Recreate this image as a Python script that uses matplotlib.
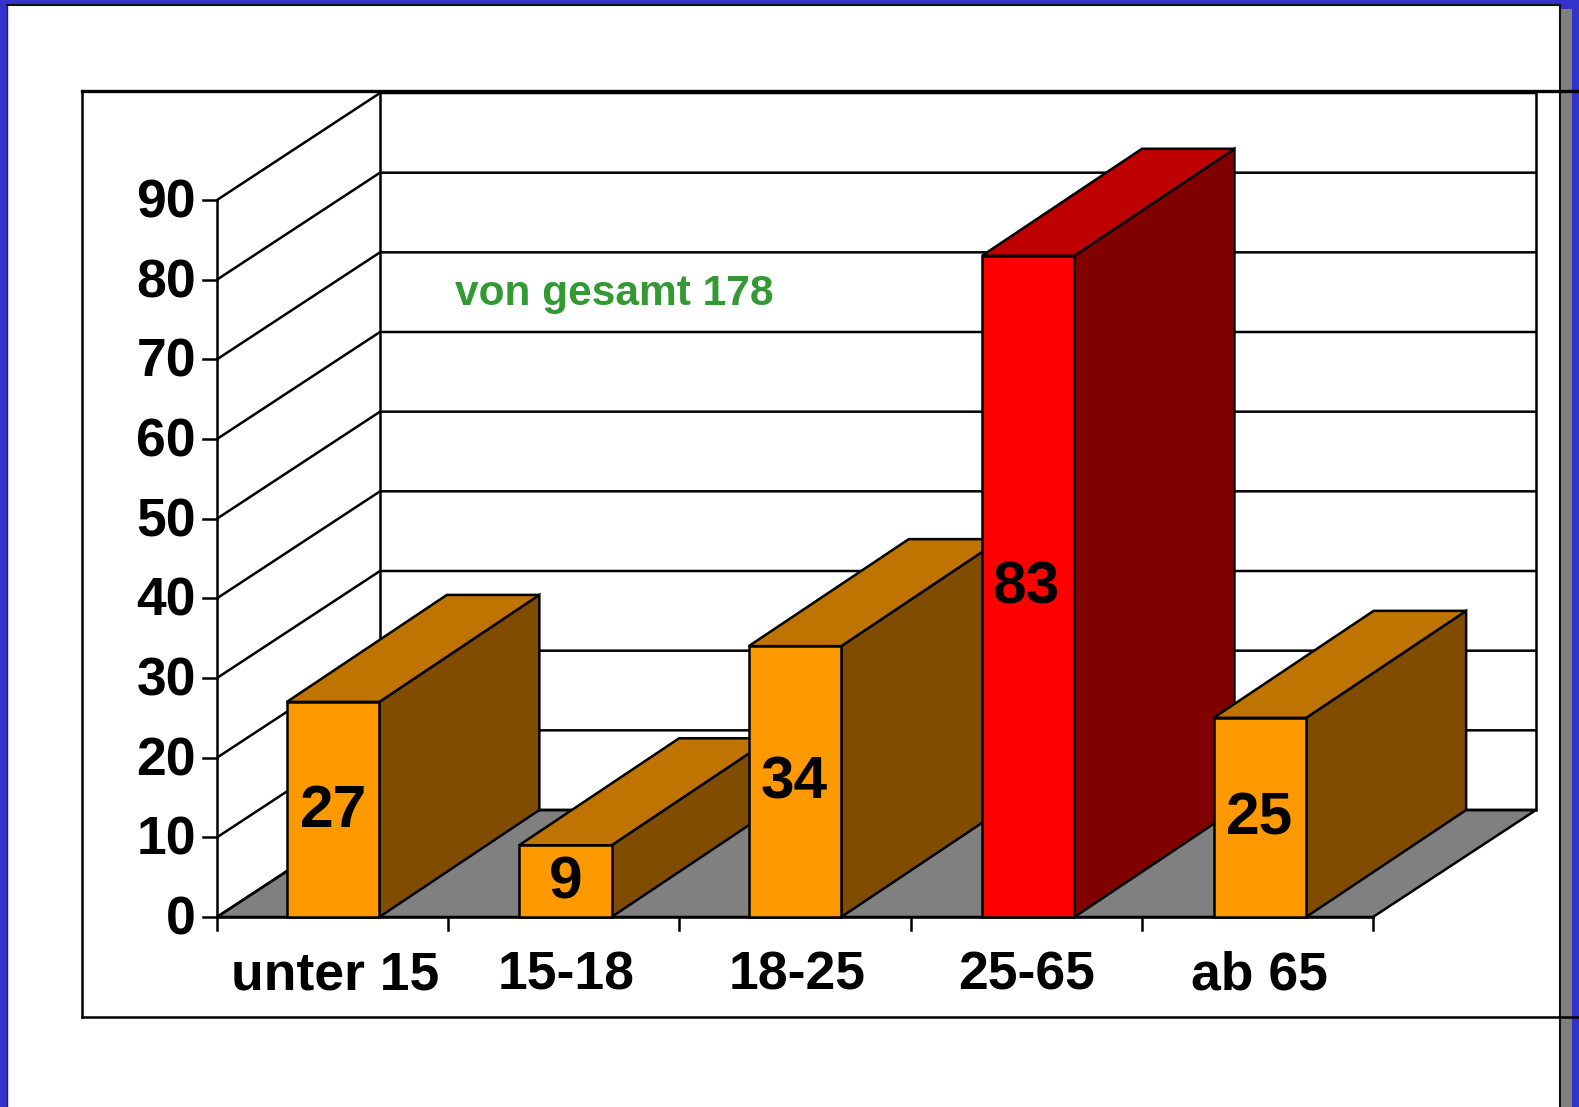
import matplotlib
matplotlib.use('Agg')
import matplotlib.pyplot as plt
from matplotlib.patches import Polygon, Rectangle

plt.rcParams['font.family'] = ['Liberation Sans', 'DejaVu Sans']

categories = ['unter 15', '15-18', '18-25', '25-65', 'ab 65']
values = [27, 9, 34, 83, 25]
y_ticks = [0, 10, 20, 30, 40, 50, 60, 70, 80, 90]
note = 'von gesamt 178'

W, H = 1579, 1107
LW = 1.8

# front plane of the chart in pixels
x0_px, y0_px = 217, 917
cat_px = (1373 - 217) / 5
val_px = (917 - 200) / 90
# depth of the fake 3d box, bars are a bit shallower than the floor
dx = 163 / cat_px
dy = 107 / val_px
bar_dx = 160 / cat_px
bar_w = 0.4
# the original bars and labels are not quite evenly spaced
bar_nudge_px = [0.5, 1.5, 0, 2, 2.5]
value_nudge_px = [0.5, 1.5, -1, -0.5, 2.5]
cat_nudge_px = [2.5, 2, 2, 0, 2.5]

fig = plt.figure(figsize=(W / 100, H / 100), dpi=100, facecolor='white')

# page decoration, pixel coordinates
bg = fig.add_axes([0, 0, 1, 1])
bg.set_xlim(0, W)
bg.set_ylim(H, 0)
bg.axis('off')
bg.add_patch(Rectangle((0, 0), W, H, fc='#3333cc', ec='none', zorder=1))
bg.add_patch(Rectangle((1559, 9), 13, H, fc='#808080', ec='none', zorder=2))
bg.add_patch(Rectangle((7, 5), 1553, H, fc='white', ec='none', zorder=3))
bg.plot([7, 7], [5, H], color='#222266', lw=1, zorder=4)
bg.plot([7, 1560, 1560], [5, 5, H], color='#111111', lw=1.5, zorder=4)
# chart frame
bg.plot([82, 82], [91, 1017], color='black', lw=LW, zorder=5)
bg.plot([82, W], [91, 91], color='black', lw=2.4, zorder=5)
bg.plot([82, W], [1017, 1017], color='black', lw=LW, zorder=5)

# chart, category / value coordinates
ax = fig.add_axes([0, 0, 1, 1])
ax.patch.set_alpha(0)
ax.axis('off')
ax.set_xlim(-x0_px / cat_px, (W - x0_px) / cat_px)
ax.set_ylim(-(H - y0_px) / val_px, y0_px / val_px)
n = len(categories)
top = y_ticks[-1]

# floor
ax.add_patch(Polygon([(0, 0), (n, 0), (n + dx, dy), (dx, dy)], fc='#808080', ec='black', lw=LW, zorder=1))

# walls and gridlines
for v in y_ticks:
    ax.plot([0, dx, n + dx], [v, v + dy, v + dy], color='black', lw=LW, zorder=2, solid_capstyle='butt')
    ax.plot([-14 / cat_px, 0], [v, v], color='black', lw=LW, zorder=2)
    ax.text(-21 / cat_px, v - 0.45, str(v), ha='right', va='center', fontsize=38.5, fontweight='bold', zorder=6)
ax.plot([0, 0], [-13 / val_px, top], color='black', lw=LW, zorder=2)
ax.plot([dx, dx], [dy, top + dy], color='black', lw=LW, zorder=2)
ax.plot([n + dx, n + dx], [dy, top + dy], color='black', lw=LW, zorder=2)
ax.plot([0, n], [0, 0], color='black', lw=LW, zorder=2)
for i in range(1, n + 1):
    ax.plot([i, i], [0, -13 / val_px], color='black', lw=LW, zorder=2)

# bars, left to right so the later ones cover the earlier ones
for i, (c, v) in enumerate(zip(categories, values)):
    is_max = v == max(values)
    front = '#ff0000' if is_max else '#ff9900'
    side = '#800000' if is_max else '#804d00'
    cap = '#bf0000' if is_max else '#bf7300'
    mid = i + 0.5 + bar_nudge_px[i] / cat_px
    l = mid - bar_w / 2
    r = mid + bar_w / 2
    z = 3 + i * 0.1
    ax.add_patch(Polygon([(r, 0), (r + bar_dx, dy), (r + bar_dx, v + dy), (r, v)], fc=side, ec='black', lw=LW, zorder=z))
    ax.add_patch(Polygon([(l, v), (r, v), (r + bar_dx, v + dy), (l + bar_dx, v + dy)], fc=cap, ec='black', lw=LW, zorder=z))
    ax.add_patch(Polygon([(l, 0), (r, 0), (r, v), (l, v)], fc=front, ec='black', lw=LW, zorder=z))
    ax.text(i + 0.5 + value_nudge_px[i] / cat_px, v / 2 - 0.2, str(v), ha='center', va='center',
            fontsize=43.5, fontweight='bold', zorder=6)
    ax.text(i + 0.5 + cat_nudge_px[i] / cat_px, -59 / val_px, c, ha='center', va='center',
            fontsize=38.5, fontweight='bold', zorder=6)

ax.text(1.03, 78.2, note, ha='left', va='center', fontsize=30.6, fontweight='bold', color='#339933', zorder=2.5)

fig.savefig('out.png', dpi=100)
